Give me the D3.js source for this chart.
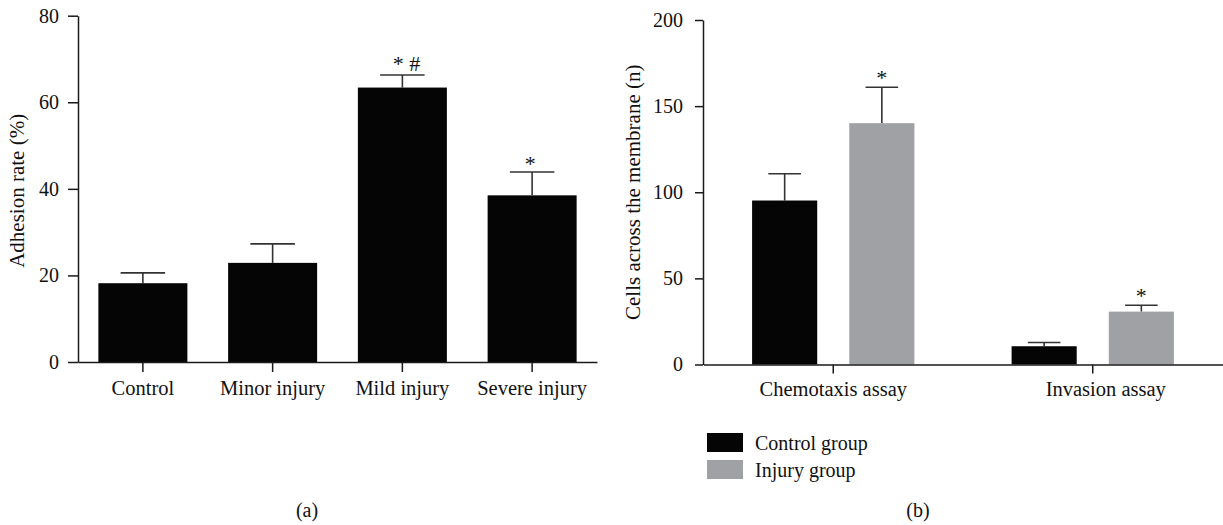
<!DOCTYPE html>
<html>
<head>
<meta charset="utf-8">
<script src="https://cdn.jsdelivr.net/npm/d3@7"></script>
<style>
  body { margin: 0; background: #fff; }
  svg text { font-family: "Liberation Serif", "Times New Roman", serif; fill: #111; }
</style>
</head>
<body>
<svg id="chart" width="1223" height="525"></svg>
<script>
// Panel (a): adhesion rate by injury level
const adhesionCategories = ["Control", "Minor injury", "Mild injury", "Severe injury"];
const adhesionMeans = [18.2, 22.9, 63.4, 38.5];
const adhesionErrors = [2.4, 4.4, 2.9, 5.4];
const adhesionMarks = ["", "", "* #", "*"];
const adhesionTicks = [0, 20, 40, 60, 80];

// Panel (b): cells across the membrane
const assayCategories = ["Chemotaxis assay", "Invasion assay"];
const groupNames = ["Control group", "Injury group"];
const controlMeans = [95.2, 10.6];
const controlErrors = [15.5, 2.2];
const injuryMeans = [140.1, 30.7];
const injuryErrors = [20.9, 3.7];
const controlMarks = ["", ""];
const injuryMarks = ["*", "*"];
const cellTicks = [0, 50, 100, 150, 200];

const groupColors = ["#050505", "#a0a1a4"];
const axisColor = "#1a1a1a";
const errColor = "#333";

const svg = d3.select("#chart");

function styleAxis(g) {
  g.selectAll("path, line").attr("stroke", axisColor).attr("stroke-width", 1.5);
  g.selectAll("text").attr("font-size", 20).attr("fill", "#111")
    .attr("font-family", "'Liberation Serif', 'Times New Roman', serif");
}

function errorBar(g, cx, half, yTop, yBase) {
  g.append("line").attr("x1", cx).attr("x2", cx).attr("y1", yBase).attr("y2", yTop)
    .attr("stroke", errColor).attr("stroke-width", 1.6);
  g.append("line").attr("x1", cx - half).attr("x2", cx + half).attr("y1", yTop).attr("y2", yTop)
    .attr("stroke", errColor).attr("stroke-width", 1.6);
}

// ---------- Panel (a) ----------
{
  const x = d3.scaleBand().domain(adhesionCategories).range([78, 597])
    .paddingInner(0.314).paddingOuter(0.157);
  const y = d3.scaleLinear().domain([0, 80]).range([362, 15.7]);
  const g = svg.append("g");

  const rows = adhesionCategories.map((c, i) => ({
    c, m: adhesionMeans[i], e: adhesionErrors[i], mark: adhesionMarks[i]
  }));

  // error bars drawn first so the bar covers the lower stub
  rows.forEach(d => errorBar(g, x(d.c) + x.bandwidth() / 2, x.bandwidth() / 4, y(d.m + d.e), y(d.m)));

  g.selectAll("rect.bar").data(rows).join("rect")
    .attr("class", "bar")
    .attr("x", d => x(d.c)).attr("width", x.bandwidth())
    .attr("y", d => y(d.m)).attr("height", d => y(0) - y(d.m))
    .attr("fill", groupColors[0]);

  g.selectAll("text.mark").data(rows.filter(d => d.mark)).join("text")
    .attr("class", "mark")
    .attr("x", d => x(d.c) + x.bandwidth() / 2 + (d.mark.length > 1 ? 4 : -2))
    .attr("y", d => y(d.m + d.e) - (d.mark.length > 1 ? 4 : 1))
    .attr("text-anchor", "middle").attr("font-size", 22)
    .text(d => d.mark);

  g.append("g").attr("transform", `translate(78,0)`)
    .call(d3.axisLeft(y).tickValues(adhesionTicks).tickSize(10).tickSizeOuter(0).tickPadding(9))
    .call(styleAxis);

  g.append("g").attr("transform", `translate(0,${y(0)})`)
    .call(d3.axisBottom(x).tickSize(10).tickSizeOuter(0).tickPadding(10))
    .call(styleAxis)
    .selectAll(".tick text").attr("dy", "0.62em").attr("font-size", 20.5);

  g.append("text")
    .attr("transform", `translate(24,${(y(0) + y(80)) / 2 + 2}) rotate(-90)`)
    .attr("text-anchor", "middle").attr("font-size", 21)
    .text("Adhesion rate (%)");

  g.append("text").attr("x", 307).attr("y", 517)
    .attr("text-anchor", "middle").attr("font-size", 20).text("(a)");
}

// ---------- Panel (b) ----------
{
  const x0 = d3.scaleBand().domain(assayCategories).range([703.5, 1222.5]);
  const x1 = d3.scaleBand().domain(groupNames).range([0, x0.bandwidth()])
    .paddingInner(0.33).paddingOuter(0.5);
  const y = d3.scaleLinear().domain([0, 200]).range([364.5, 20]);
  const g = svg.append("g");

  const series = [
    { name: groupNames[0], means: controlMeans, errs: controlErrors, marks: controlMarks, color: groupColors[0] },
    { name: groupNames[1], means: injuryMeans, errs: injuryErrors, marks: injuryMarks, color: groupColors[1] }
  ];
  const rows = [];
  assayCategories.forEach((c, i) => series.forEach(s => rows.push({
    c, s: s.name, m: s.means[i], e: s.errs[i], mark: s.marks[i], color: s.color
  })));

  rows.forEach(d => {
    const cx = x0(d.c) + x1(d.s) + x1.bandwidth() / 2;
    errorBar(g, cx, x1.bandwidth() / 4, y(d.m + d.e), y(d.m));
  });

  g.selectAll("rect.bar").data(rows).join("rect")
    .attr("class", "bar")
    .attr("x", d => x0(d.c) + x1(d.s)).attr("width", x1.bandwidth())
    .attr("y", d => y(d.m)).attr("height", d => y(0) - y(d.m))
    .attr("fill", d => d.color);

  g.selectAll("text.mark").data(rows.filter(d => d.mark)).join("text")
    .attr("class", "mark")
    .attr("x", d => x0(d.c) + x1(d.s) + x1.bandwidth() / 2)
    .attr("y", d => y(d.m + d.e) - 2)
    .attr("text-anchor", "middle").attr("font-size", 22)
    .text(d => d.mark);

  g.append("g").attr("transform", `translate(703,0)`)
    .call(d3.axisLeft(y).tickValues(cellTicks).tickSize(8).tickSizeOuter(0).tickPadding(12))
    .call(styleAxis);

  const xa = g.append("g").attr("transform", `translate(0,${y(0)})`)
    .call(d3.axisBottom(x0).tickSize(9).tickSizeOuter(0).tickPadding(10))
    .call(styleAxis);
  xa.selectAll(".tick text").attr("dy", "0.6em").attr("font-size", 20.5)
    .attr("dx", (d, i) => i === 1 ? 13 : 0);

  g.append("text")
    .attr("transform", `translate(640,${(y(0) + y(200)) / 2}) rotate(-90)`)
    .attr("text-anchor", "middle").attr("font-size", 21)
    .text("Cells across the membrane (n)");

  // legend
  const lg = g.append("g").attr("transform", "translate(707,433)");
  series.forEach((s, i) => {
    lg.append("rect").attr("x", 0).attr("y", i * 27).attr("width", 36).attr("height", 19)
      .attr("fill", s.color);
    lg.append("text").attr("x", 48).attr("y", i * 27 + 17).attr("font-size", 20).text(s.name);
  });

  g.append("text").attr("x", 918).attr("y", 517)
    .attr("text-anchor", "middle").attr("font-size", 20).text("(b)");
}
</script>
</body>
</html>
